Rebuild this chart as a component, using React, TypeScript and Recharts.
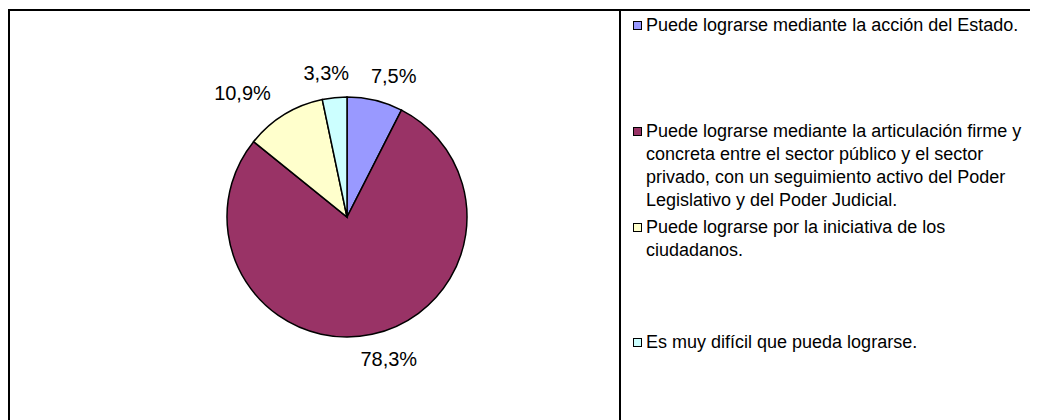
import { PieChart, Pie, Cell, Legend } from 'recharts';

const categories = [
  'Puede lograrse mediante la acción del Estado.',
  'Puede lograrse mediante la articulación firme y concreta entre el sector público y el sector privado, con un seguimiento activo del Poder Legislativo y del Poder Judicial.',
  'Puede lograrse por la iniciativa de los ciudadanos.',
  'Es muy difícil que pueda lograrse.',
];
const shares = [7.5, 78.3, 10.9, 3.3];
const colors = ['#9999ff', '#993366', '#ffffcc', '#ccffff'];

// vertical placement of each legend entry (px from chart top)
const legendTops = [6, 112, 208, 323];

const pieData = categories.map((name, i) => ({ name, value: shares[i] }));

const RAD = Math.PI / 180;
const FONT = '"Liberation Sans", Arial, sans-serif';

function renderLabel(props: any) {
  const { cx, cy, midAngle, outerRadius, value } = props;
  const x = cx + (outerRadius + 80) * Math.cos(-midAngle * RAD);
  const y = cy + (outerRadius + 25) * Math.sin(-midAngle * RAD);
  return (
    <text x={x} y={y} textAnchor="middle" dominantBaseline="central" fill="#000" fontSize={20} fontFamily={FONT}>
      {value.toFixed(1).replace('.', ',')}%
    </text>
  );
}

function renderLegend(props: any) {
  const payload = props.payload || [];
  return (
    <div style={{ position: 'relative', width: 0, height: 0 }}>
      {payload.map((entry: any) => {
        const i = categories.indexOf(entry.value);
        return (
          <div
            key={entry.value}
            style={{ position: 'absolute', left: 625, top: legendTops[i], width: 402, display: 'flex', alignItems: 'flex-start' }}
          >
            <span
              style={{
                width: 7,
                height: 7,
                border: '1px solid #000',
                background: colors[i],
                marginTop: 7,
                marginRight: 4,
                flex: 'none',
              }}
            />
            <span style={{ fontSize: 18, lineHeight: '23px', color: '#000', fontFamily: FONT, width: 390, textAlign: 'left' }}>
              {entry.value}
            </span>
          </div>
        );
      })}
    </div>
  );
}

export default function App() {
  return (
    <div style={{ position: 'relative', width: 1030, height: 412, background: '#fff' }}>
      <div style={{ position: 'absolute', left: 0, top: 1, width: 1030, height: 2, background: '#000' }} />
      <div style={{ position: 'absolute', left: 0, top: 1, width: 2, height: 411, background: '#000' }} />
      <div style={{ position: 'absolute', left: 611, top: 1, width: 2, height: 411, background: '#000' }} />
      <div style={{ position: 'absolute', left: 0, top: 0 }}>
        <PieChart width={1030} height={412} margin={{ top: 0, right: 0, bottom: 0, left: 0 }}>
          <Pie
            data={pieData}
            dataKey="value"
            nameKey="name"
            cx={339}
            cy={209}
            outerRadius={120}
            startAngle={90}
            endAngle={-270}
            stroke="#000"
            strokeWidth={1.5}
            label={renderLabel}
            labelLine={false}
            isAnimationActive={false}
          >
            {pieData.map((_, i) => (
              <Cell key={i} fill={colors[i]} />
            ))}
          </Pie>
          <Legend
            content={renderLegend}
            wrapperStyle={{ left: 0, top: 0, bottom: 'auto', right: 'auto', width: 0, height: 0, overflow: 'visible' }}
          />
        </PieChart>
      </div>
    </div>
  );
}
